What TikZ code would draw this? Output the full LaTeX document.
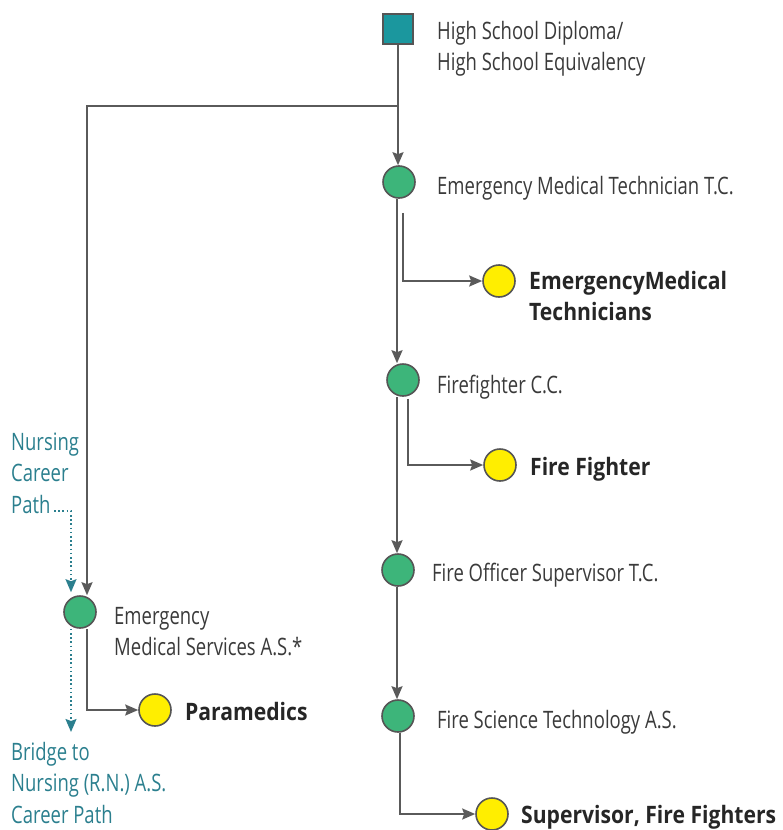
\documentclass[tikz,border=0pt]{standalone}
\usepackage{fontspec}
\setmainfont{Open Sans}[FakeStretch=0.77]
\newfontfamily\boldf{Open Sans}[FakeStretch=0.88]
\usetikzlibrary{arrows.meta,calc,backgrounds}
\definecolor{lgray}{HTML}{5A5A5A}
\definecolor{ogray}{HTML}{555555}
\definecolor{txtgray}{HTML}{3A3A3A}
\definecolor{teal2}{HTML}{2B7F8E}
\definecolor{sqteal}{HTML}{1B979E}
\definecolor{gfill}{HTML}{3DB57A}
\definecolor{yfill}{HTML}{FFEE00}
\newcommand{\mlines}[1]{\begin{tabular}[t]{@{}l@{}}#1\end{tabular}}
\tikzset{
  gc/.style={circle, draw=ogray, line width=1.6pt, fill=gfill, minimum size=32pt, inner sep=0pt},
  yc/.style={circle, draw=ogray, line width=1.6pt, fill=yfill, minimum size=32pt, inner sep=0pt},
  sq/.style={rectangle, draw=ogray, line width=1.6pt, fill=sqteal, minimum size=30pt, inner sep=0pt},
  lbl/.style={anchor=base west, inner sep=0pt, text=txtgray, font=\fontsize{24}{31.5}\selectfont},
  blbl/.style={anchor=base west, inner sep=0pt, text=black!85, font=\boldf\bfseries\fontsize{24}{31.5}\selectfont},
  tlbl/.style={anchor=base west, inner sep=0pt, text=teal2, font=\fontsize{24}{31.5}\selectfont},
  conn/.style={draw=lgray, line width=2pt, -{Stealth[length=13pt,width=11pt,inset=2pt]}},
  dconn/.style={draw=teal2, line width=1.6pt, dash pattern=on 1.6pt off 2.6pt, -{Stealth[length=13pt,width=11pt,inset=2pt,sep=0pt]}},
}
\begin{document}
\begin{tikzpicture}[x=1pt,y=-1pt]
\useasboundingbox (0,0) rectangle (782,830);
% nodes
\node[sq] (hs) at (398,29) {};
\node[lbl] (hst) at (437,39) {\mlines{High School Diploma/\\High School Equivalency}};
\node[gc] (emt) at (399,182) {};
\node[lbl] (emtt) at (437,194) {Emergency Medical Technician T.C.};
\node[yc] (yemt) at (499,281) {};
\node[blbl] (yemtt) at (529,289) {\mlines{EmergencyMedical\\Technicians}};
\node[gc] (ff) at (403,380) {};
\node[lbl] (fft) at (437,393) {Firefighter C.C.};
\node[yc] (yff) at (500,465) {};
\node[blbl] (yfft) at (530,475) {Fire Fighter};
\node[gc] (fo) at (398,570) {};
\node[lbl] (fot) at (432,581) {Fire Officer Supervisor T.C.};
\node[gc] (fs) at (398,716) {};
\node[lbl] (fst) at (437,728) {Fire Science Technology A.S.};
\node[yc] (ysup) at (492,814) {};
\node[blbl] (ysupt) at (521,823) {Supervisor, Fire Fighters};
\node[gc] (ems) at (80,612) {};
\node[lbl] (emst) at (114,624) {\mlines{Emergency\\Medical Services A.S.*}};
\node[yc] (ypara) at (155,710) {};
\node[blbl] (yparat) at (185,720) {Paramedics};
\node[tlbl] (nurs) at (11,450) {\mlines{Nursing\\Career\\Path}};
\node[tlbl] (bridge) at (11,760) {\mlines{Bridge to\\Nursing (R.N.) A.S.\\Career Path}};
\coordinate (pathend) at (54,511);
\coordinate (j1) at (398,106);
\coordinate (bridgetip) at (71,732);
% connector start points
\coordinate (s1) at ($(emt.south)+(-2,0)$);
\coordinate (s2) at ($(emt.south)+(4,14)$);
\coordinate (s3) at ($(ff.south)+(-6,0)$);
\coordinate (s4) at ($(ff.south)+(5,2)$);
\coordinate (s5) at ($(fo.south)+(-1,0)$);
\coordinate (s6) at ($(fs.south)+(2,0)$);
\coordinate (s7) at ($(ems.south)+(7,0)$);
\coordinate (e1) at ($(ems.north)+(7,0)$);
\coordinate (e2) at ($(ems.north)+(-9,-3)$);
\coordinate (s8) at ($(ems.south)+(-9,0)$);
% connectors
\begin{pgfonlayer}{background}
\draw[conn] (hs.south) -- (hs.south |- emt.north);
\draw[conn] (j1) -| (e1);
\draw[conn] (s1) -- (s1 |- ff.north);
\draw[conn] (s2) |- (yemt.west);
\draw[conn] (s3) -- (s3 |- fo.north);
\draw[conn] (s4) |- (yff.west);
\draw[conn] (s5) -- (s5 |- fs.north);
\draw[conn] (s6) |- (ysup.west);
\draw[conn] (s7) |- (ypara.west);
\draw[dconn] (pathend) -| (e2);
\draw[dconn] (s8) -- (bridgetip);
\end{pgfonlayer}
\end{tikzpicture}
\end{document}
